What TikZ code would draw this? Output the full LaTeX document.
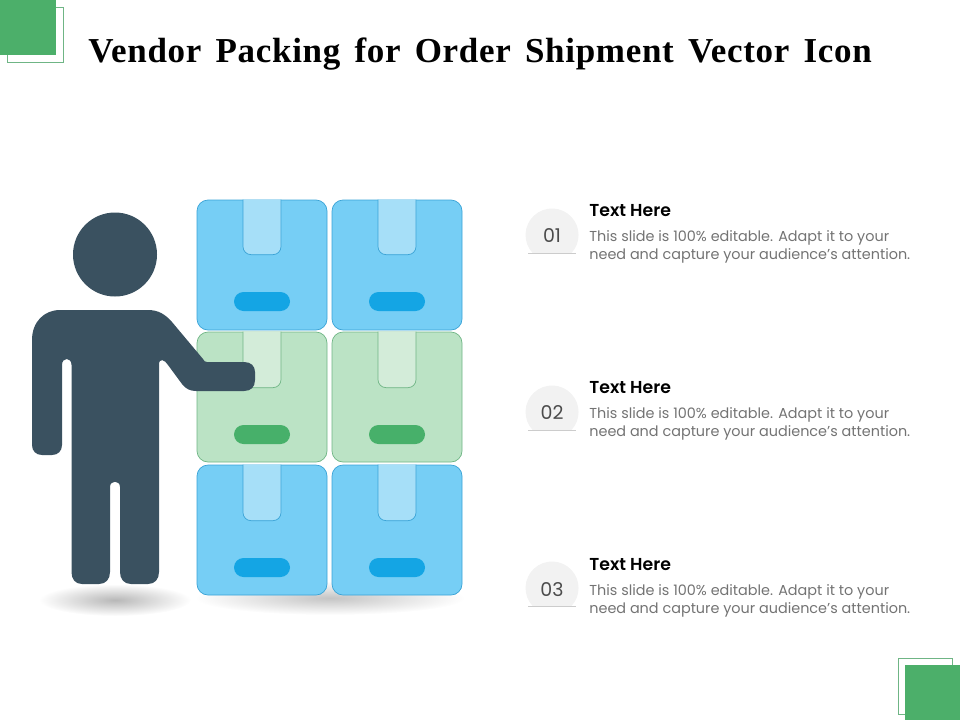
\documentclass[tikz,border=0pt]{standalone}
\usepackage{fontspec}
\usepackage{tikz}
\setmainfont{Liberation Serif}
\newfontfamily\titlefont[LetterSpace=2,WordSpace=1.5]{Liberation Serif}
\newfontfamily\bodyfont{Poppins}
\newfontfamily\headfont{Poppins SemiBold}
\definecolor{personc}{HTML}{3A5160}
\definecolor{cornerc}{HTML}{4CAF6A}
\definecolor{blueb}{HTML}{76CEF5}
\definecolor{bluee}{HTML}{3AA3D6}
\definecolor{bluet}{HTML}{A6DFF8}
\definecolor{blues}{HTML}{14A5E4}
\definecolor{greenb}{HTML}{BBE3C5}
\definecolor{greene}{HTML}{6FB585}
\definecolor{greent}{HTML}{D3ECD9}
\definecolor{greens}{HTML}{47B06A}
\tikzstyle{bluebox}=[draw=bluee, fill=blueb, rounded corners=11pt, minimum width=130pt, minimum height=130pt, inner sep=0pt]
\tikzstyle{greenbox}=[draw=greene, fill=greenb, rounded corners=11pt, minimum width=130pt, minimum height=130pt, inner sep=0pt]
\tikzstyle{bluetab}=[draw=bluee, fill=bluet]
\tikzstyle{greentab}=[draw=greene, fill=greent]
\tikzstyle{blueslot}=[fill=blues, rounded corners=9.5pt, minimum width=56pt, minimum height=19pt, inner sep=0pt]
\tikzstyle{greenslot}=[fill=greens, rounded corners=9.5pt, minimum width=56pt, minimum height=19pt, inner sep=0pt]
\tikzstyle{disc}=[fill=black!5]
\tikzstyle{digit}=[text=black!70, inner sep=0pt, font=\bodyfont\fontsize{19}{19}\selectfont]
\tikzstyle{head}=[anchor=base west, inner sep=0pt, font=\headfont\fontsize{17.3}{18}\selectfont]
\tikzstyle{body}=[anchor=base west, inner sep=0pt, text=black!55, font=\bodyfont\fontsize{14.4}{18}\selectfont]

\begin{document}
\begin{tikzpicture}[x=1pt, y=-1pt, line width=0.7pt]
    \useasboundingbox (0, 0) rectangle (960, 720);
    % corners
    \draw[draw=greene] (7, 7) rectangle (63, 62);
    \fill[cornerc] (0, 0) rectangle (56, 55);
    \draw[draw=greene] (898, 658) rectangle (952, 714);
    \fill[cornerc] (905, 665) rectangle (960, 720);
    \node[anchor=base west, inner sep=0pt, font=\titlefont\bfseries\fontsize{35}{36}\selectfont] (title) at (88, 62) {Vendor Packing for Order Shipment Vector Icon};
    % shadows
    \shade[inner color=black!28, outer color=white] (115, 600) ellipse (76 and 16);
    \shade[inner color=black!23, outer color=white] (330, 598) ellipse (135 and 17);
    % boxes
    \node[bluebox] (b1) at (262, 265) {};
    \node[bluebox] (b2) at (397, 265) {};
    \node[greenbox] (b3) at (262, 397) {};
    \node[greenbox] (b4) at (397, 397) {};
    \node[bluebox] (b5) at (262, 530) {};
    \node[bluebox] (b6) at (397, 530) {};
    \draw[bluetab] (b1.north) ++(-19, 0) [rounded corners=8pt] -- ++(0, 55) -- ++(38, 0) [sharp corners] -- ++(0, -55);
    \draw[bluetab] (b2.north) ++(-19, 0) [rounded corners=8pt] -- ++(0, 55) -- ++(38, 0) [sharp corners] -- ++(0, -55);
    \draw[greentab] (b3.north) ++(-19, 0) [rounded corners=8pt] -- ++(0, 56) -- ++(38, 0) [sharp corners] -- ++(0, -56);
    \draw[greentab] (b4.north) ++(-19, 0) [rounded corners=8pt] -- ++(0, 56) -- ++(38, 0) [sharp corners] -- ++(0, -56);
    \draw[bluetab] (b5.north) ++(-19, 0) [rounded corners=8pt] -- ++(0, 56) -- ++(38, 0) [sharp corners] -- ++(0, -56);
    \draw[bluetab] (b6.north) ++(-19, 0) [rounded corners=8pt] -- ++(0, 56) -- ++(38, 0) [sharp corners] -- ++(0, -56);
    \node[blueslot] (s1) at (262, 301.5) {};
    \node[blueslot] (s2) at (397, 301.5) {};
    \node[greenslot] (s3) at (262, 434.5) {};
    \node[greenslot] (s4) at (397, 434.5) {};
    \node[blueslot] (s5) at (262, 567.5) {};
    \node[blueslot] (s6) at (397, 567.5) {};
    % person
    \fill[personc] (115, 254.5) circle (42);
    \fill[personc] (32, 340) .. controls (32, 322) and (44, 310) .. (60, 310) -- (148, 310)
        .. controls (158, 310) and (165, 314) .. (172, 322) -- (203, 359)
        .. controls (204, 361) and (205, 362) .. (207, 362) -- (244, 362)
        .. controls (251, 362) and (255, 366) .. (255, 372) -- (255, 380)
        .. controls (255, 387) and (251, 391) .. (244, 391) -- (196, 391)
        .. controls (190, 391) and (186, 389) .. (182, 384) -- (168, 365)
        .. controls (165, 360) and (159, 357) .. (159, 365)
        -- (159, 572) .. controls (159, 579) and (155, 584) .. (148, 584) -- (131, 584)
        .. controls (124, 584) and (120, 579) .. (120, 572) -- (120, 487)
        .. controls (120, 480) and (110, 480) .. (110, 487) -- (110, 572)
        .. controls (110, 579) and (106, 584) .. (99, 584) -- (82, 584)
        .. controls (75, 584) and (71.5, 579) .. (71.5, 572) -- (71.5, 365)
        .. controls (71.5, 357) and (62, 357) .. (62, 365) -- (62, 445)
        .. controls (62, 451) and (58, 455) .. (52, 455) -- (42, 455)
        .. controls (36, 455) and (32, 451) .. (32, 445) -- cycle;
    % list
    \fill[disc] (532.6, 253) arc[start angle=137.2, end angle=402.8, radius=26.5];
    \fill[disc] (532.6, 430) arc[start angle=137.2, end angle=402.8, radius=26.5];
    \fill[disc] (532.6, 606) arc[start angle=137.2, end angle=402.8, radius=26.5];
    \draw[black!20] (528, 253)--(576, 253) (528, 430)--(576, 430) (528, 606)--(576, 606);
    \node[digit] (n1) at (552, 236) {01};
    \node[digit] (n2) at (552, 413) {02};
    \node[digit] (n3) at (552, 590) {03};
    \node[head] (h1) at (589, 216) {Text Here};
    \node[head] (h2) at (589, 393) {Text Here};
    \node[head] (h3) at (589, 570) {Text Here};
    \node[body] (a1) at (589, 241) {This slide is 100\% editable. Adapt it to your};
    \node[body] (c1) at (589, 259) {need and capture your audience’s attention.};
    \node[body] (a2) at (589, 418) {This slide is 100\% editable. Adapt it to your};
    \node[body] (c2) at (589, 436) {need and capture your audience’s attention.};
    \node[body] (a3) at (589, 595) {This slide is 100\% editable. Adapt it to your};
    \node[body] (c3) at (589, 613) {need and capture your audience’s attention.};
\end{tikzpicture}
\end{document}
